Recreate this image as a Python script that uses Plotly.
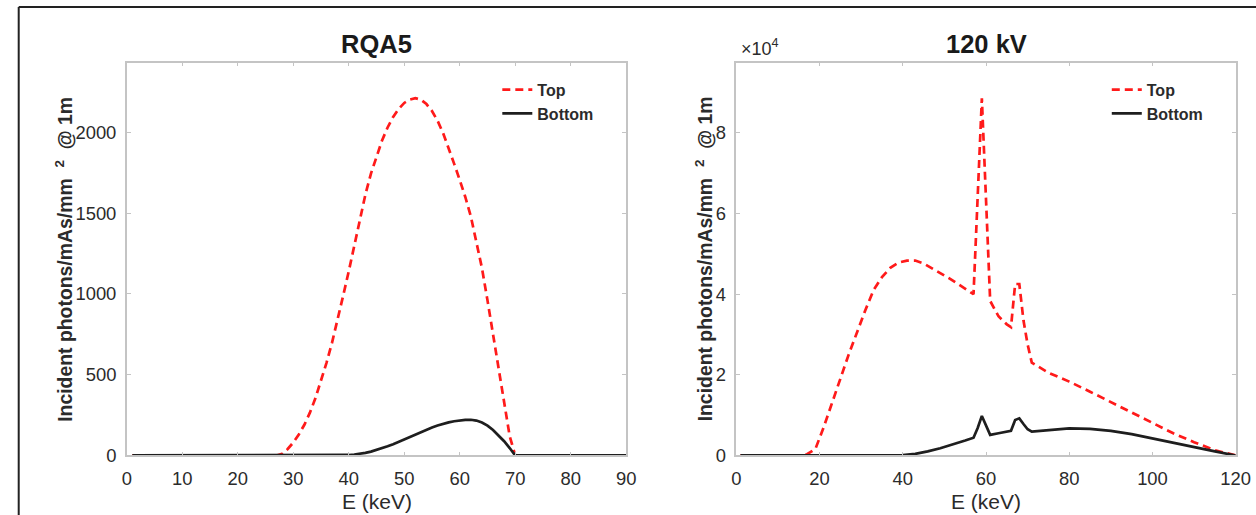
import plotly.graph_objects as go

# ---------------- data ----------------
E_rqa5 = [1, 5, 10, 15, 20, 25, 26, 27, 28, 29, 30, 31, 32, 33, 34, 35, 36, 37, 38, 39, 40,
          41, 42, 43, 44, 45, 46, 47, 48, 49, 50, 51, 52, 53, 54, 55, 56, 57, 58, 59, 60,
          61, 62, 63, 64, 65, 66, 67, 68, 69, 70, 75, 80, 85, 90]
top_rqa5 = [0, 0, 0, 0, 0, 0, 0, 0, 10, 40, 80, 130, 190, 265, 355, 460, 575, 700, 840, 990, 1140,
            1300, 1465, 1615, 1745, 1855, 1950, 2030, 2095, 2145, 2182, 2203, 2212, 2202, 2175, 2132, 2072, 1995, 1905, 1805, 1705,
            1600, 1480, 1320, 1160, 960, 750, 540, 320, 120, 0, 0, 0, 0, 0]
E_rqa5_b = [1, 10, 20, 30, 35, 38, 40, 41, 42, 43, 44, 45, 46, 47, 48, 49, 50, 51, 52, 53, 54, 55,
            56, 57, 58, 59, 60, 61, 62, 63, 64, 65, 66, 67, 68, 69, 70, 75, 80, 85, 90]
bot_rqa5 = [0, 0, 0, 0, 0, 1, 3, 6, 10, 16, 24, 34, 45, 57, 70, 85, 100, 116, 131, 146, 160, 173,
            185, 196, 205, 212, 217, 220, 221, 216, 204, 185, 158, 125, 88, 46, 0, 0, 0, 0, 0]

E_120_t = [1, 5, 10, 15, 17, 19, 21, 23, 25, 27, 29, 31, 33, 35, 37, 39, 41, 43, 45, 47, 49, 51,
           53, 55, 57, 59, 61, 63, 65, 66, 67, 68, 69, 70, 71, 75, 80, 85, 90, 95, 100, 105, 110, 115, 120]
top_120 = [0, 0, 0, 0, 300, 1600, 7000, 12800, 19000, 25000, 30600, 36000, 41000, 44200, 46500, 47800, 48300, 48300, 47600, 46500, 45200, 44000,
           42600, 41200, 40000, 88500, 38300, 34500, 32500, 31800, 42500, 42500, 33500, 27500, 23000, 20500, 18300, 15800, 13200, 10600, 8000, 5500, 3300, 1300, 0]
E_120_b = [1, 10, 20, 30, 35, 40, 43, 46, 49, 52, 55, 57, 58, 59, 60, 61, 63, 65, 66, 67, 68, 69,
           70, 71, 75, 80, 85, 90, 95, 100, 105, 110, 115, 120]
bot_120 = [0, 0, 0, 0, 0, 80, 400, 1000, 1800, 2700, 3700, 4400, 6800, 9800, 7200, 5100, 5500, 5800, 6100, 8800, 9200, 7800,
           6500, 5900, 6300, 6700, 6600, 6100, 5300, 4200, 3100, 2000, 1000, 0]

x_ticks_l = [0, 10, 20, 30, 40, 50, 60, 70, 80, 90]
y_ticks_l = [0, 500, 1000, 1500, 2000]
x_ticks_r = [0, 20, 40, 60, 80, 100, 120]
y_ticks_r = [0, 20000, 40000, 60000, 80000]
y_text_r = ["0", "2", "4", "6", "8"]

# ---------------- figure ----------------
W, H = 1300, 560            # page canvas (slightly larger than the view)
AX, BX, AY = 0.9838, 5.3, 0.979   # page -> picture mapping observed in the viewer
FS = 1.02                   # font compensation

RED = "#ff1a1a"
BLK = "#1e1e1e"
DASH = "8px,5px"


def pxp(X):   # picture x (px) -> page px
    return (X - BX) / AX


def pyp(Y):   # picture y (px) -> page px
    return Y / AY


def px(X):
    return pxp(X) / W


def py(Y):
    return 1 - pyp(Y) / H


fig = go.Figure()
fig.add_trace(go.Scatter(x=E_rqa5, y=top_rqa5, mode="lines", name="Top",
                         line=dict(color=RED, width=2.7, dash=DASH), xaxis="x", yaxis="y", legend="legend"))
fig.add_trace(go.Scatter(x=E_rqa5_b, y=bot_rqa5, mode="lines", name="Bottom",
                         line=dict(color=BLK, width=2.7), xaxis="x", yaxis="y", legend="legend"))
fig.add_trace(go.Scatter(x=E_120_t, y=top_120, mode="lines", name="Top",
                         line=dict(color=RED, width=2.7, dash=DASH), xaxis="x2", yaxis="y2", legend="legend2"))
fig.add_trace(go.Scatter(x=E_120_b, y=bot_120, mode="lines", name="Bottom",
                         line=dict(color=BLK, width=2.7), xaxis="x2", yaxis="y2", legend="legend2"))

TICKFONT = dict(family="Arial, Liberation Sans", size=round(18 * FS, 1), color="#2b2b2b")
axcommon = dict(showline=True, linecolor="#c4c4c4", linewidth=1.5, mirror="ticks",
                ticks="inside", ticklen=4, tickcolor="#c4c4c4", showgrid=False,
                zeroline=False, tickfont=TICKFONT)
xax = dict(axcommon, ticklabelstandoff=6)
yax = dict(axcommon, ticklabelstandoff=5)

L0, L1 = 127, 626
R0, R1 = 736, 1235
T0, B0 = 62.5, 454

LEGFONT = dict(family="Arial, Liberation Sans", size=16, color="#2b2b2b", weight="bold")
fig.update_layout(
    width=W, height=H, margin=dict(l=0, r=0, t=0, b=0),
    paper_bgcolor="white", plot_bgcolor="white",
    xaxis=dict(domain=[px(L0), px(L1)], range=[0, 90], tickvals=x_ticks_l, anchor="y", **xax),
    yaxis=dict(domain=[py(B0), py(T0)], range=[0, 2431], tickvals=y_ticks_l, anchor="x", **yax),
    xaxis2=dict(domain=[px(R0), px(R1)], range=[0, 120], tickvals=x_ticks_r, anchor="y2", **xax),
    yaxis2=dict(domain=[py(B0), py(T0)], range=[0, 97350], tickvals=y_ticks_r, ticktext=y_text_r,
                anchor="x2", **yax),
    legend=dict(x=500 / W, y=1 - 74 / H, xanchor="left", yanchor="top", bgcolor="rgba(0,0,0,0)",
                font=LEGFONT, tracegroupgap=0, itemwidth=30),
    legend2=dict(x=1119 / W, y=1 - 74 / H, xanchor="left", yanchor="top", bgcolor="rgba(0,0,0,0)",
                 font=LEGFONT, tracegroupgap=0, itemwidth=30),
    showlegend=True,
)

TITLEFONT = dict(family="Arial, Liberation Sans", size=round(25 * FS, 1), color="#1a1a1a")
LABFONT = dict(family="Arial, Liberation Sans", size=21, color="#2b2b2b")
YLABFONT = dict(family="Arial, Liberation Sans", size=round(19 * FS, 1), color="#2b2b2b")
ylab = "<b>Incident photons/mAs/mm  <sup>2</sup>  @ 1m</b>"
ann = [
    dict(text="<b>RQA5</b>", x=px((L0 + L1) / 2), y=py(44), font=TITLEFONT),
    dict(text="<b>120 kV</b>", x=px((R0 + R1) / 2), y=py(44), font=TITLEFONT),
    dict(text="E (keV)", x=px((L0 + L1) / 2), y=py(500), font=LABFONT),
    dict(text="E (keV)", x=px((R0 + R1) / 2), y=py(500), font=LABFONT),
    dict(text=ylab, x=px(64), y=py((T0 + B0) / 2), textangle=-90, font=YLABFONT),
    dict(text=ylab, x=px(704), y=py((T0 + B0) / 2), textangle=-90, font=YLABFONT),
    dict(text="×10<sup>4</sup>", x=px(739), y=py(47), xanchor="left",
         font=dict(family="Arial, Liberation Sans", size=18, color="#2b2b2b")),
]
for a in ann:
    a.setdefault("xanchor", "center")
    fig.add_annotation(xref="paper", yref="paper", showarrow=False, yanchor="middle", **a)

# outer frame (top and left edges visible in the crop)
fig.add_shape(type="line", xref="paper", yref="paper", x0=px(19), x1=1.0, y0=py(7), y1=py(7),
              line=dict(color="#222222", width=2))
fig.add_shape(type="line", xref="paper", yref="paper", x0=px(19), x1=px(19), y0=py(7), y1=0,
              line=dict(color="#222222", width=2))

fig.write_html("out.html", config={"displayModeBar": False},
               post_script="document.body.style.margin='0';")
